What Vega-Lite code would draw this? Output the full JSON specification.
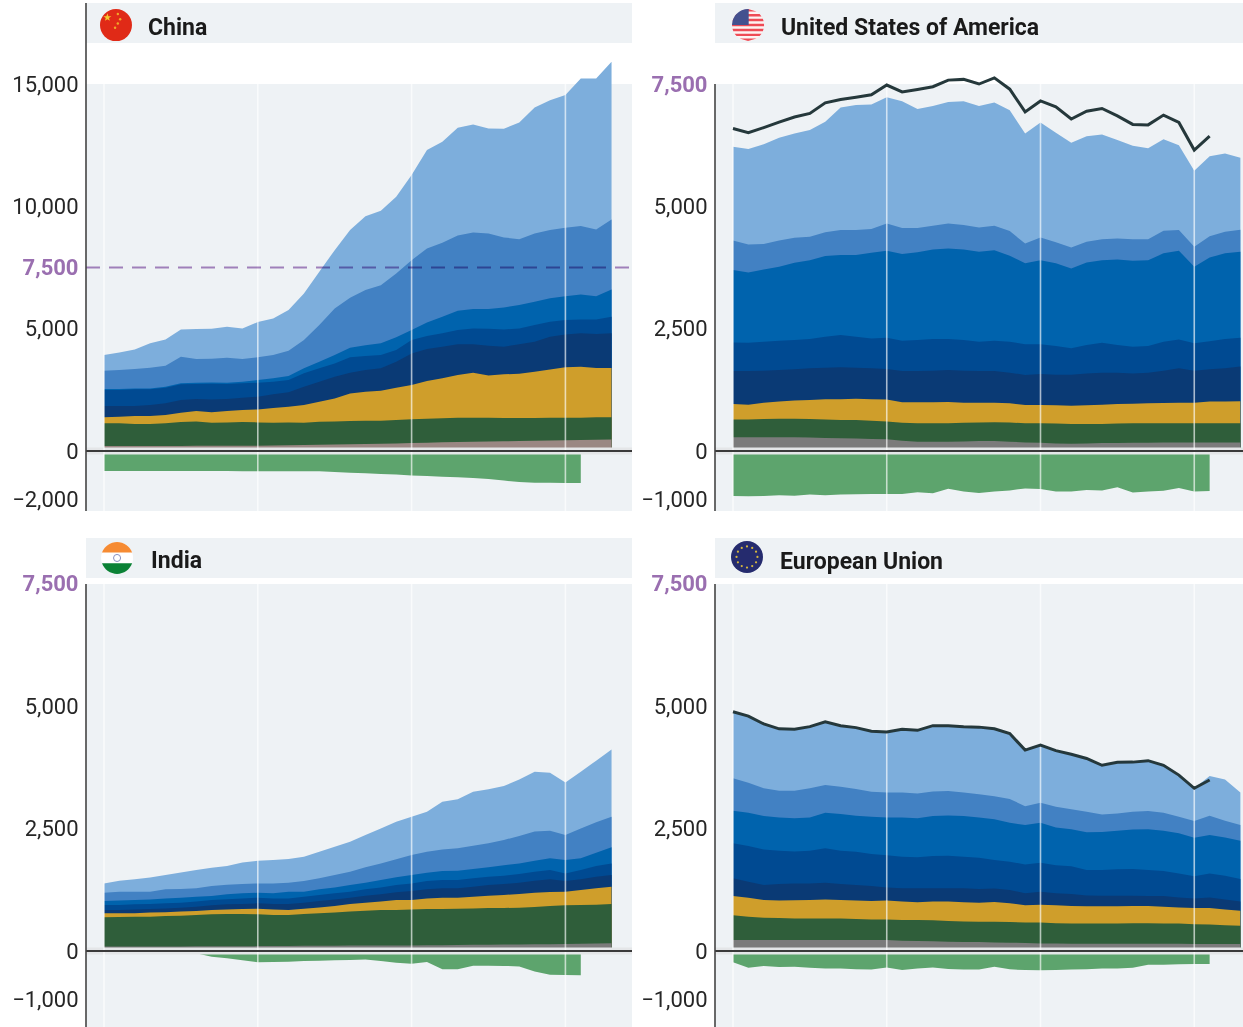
{
"$schema":"https://vega.github.io/schema/vega-lite/v6.json",
"padding":{"left":11,"top":2,"right":0,"bottom":0},
"columns":2,
"bounds":"flush",
"spacing":{"column":83,"row":27},
"resolve":{"scale":{"color":"independent"}},
"config":{"view":{"stroke":null},"axis":{"domain":false,"ticks":false,"grid":false,"labelPadding":8,"labelFont":"Roboto","labelFontSize":22,"labelColor":"#262626","labelBound":false,"labelOverlap":false,"labelFlush":false},"text":{"font":"Roboto"}},
"datasets":{
"china":[
{"year":1990,"light":3920,"mid":3280,"blue":2535,"dark":2490,"navy":1840,"gold":1375,"green":1130,"gray":200,"neg":-815},
{"year":1991,"light":4030,"mid":3310,"blue":2535,"dark":2490,"navy":1840,"gold":1400,"green":1130,"gray":200,"neg":-815},
{"year":1992,"light":4150,"mid":3350,"blue":2560,"dark":2520,"navy":1840,"gold":1430,"green":1105,"gray":200,"neg":-815},
{"year":1993,"light":4400,"mid":3405,"blue":2560,"dark":2520,"navy":1880,"gold":1430,"green":1105,"gray":200,"neg":-815},
{"year":1994,"light":4560,"mid":3490,"blue":2630,"dark":2590,"navy":1950,"gold":1470,"green":1130,"gray":205,"neg":-815},
{"year":1995,"light":4970,"mid":3855,"blue":2765,"dark":2725,"navy":2085,"gold":1565,"green":1185,"gray":205,"neg":-815},
{"year":1996,"light":4985,"mid":3760,"blue":2790,"dark":2740,"navy":2125,"gold":1635,"green":1210,"gray":210,"neg":-815},
{"year":1997,"light":5000,"mid":3770,"blue":2805,"dark":2750,"navy":2110,"gold":1580,"green":1160,"gray":210,"neg":-820},
{"year":1998,"light":5080,"mid":3815,"blue":2790,"dark":2740,"navy":2125,"gold":1635,"green":1170,"gray":215,"neg":-820},
{"year":1999,"light":5010,"mid":3760,"blue":2835,"dark":2765,"navy":2180,"gold":1675,"green":1185,"gray":215,"neg":-825},
{"year":2000,"light":5270,"mid":3830,"blue":2900,"dark":2790,"navy":2220,"gold":1700,"green":1170,"gray":220,"neg":-825},
{"year":2001,"light":5420,"mid":3920,"blue":2970,"dark":2835,"navy":2315,"gold":1755,"green":1160,"gray":225,"neg":-830},
{"year":2002,"light":5760,"mid":4100,"blue":3065,"dark":2900,"navy":2400,"gold":1810,"green":1170,"gray":235,"neg":-830},
{"year":2003,"light":6440,"mid":4535,"blue":3380,"dark":3175,"navy":2630,"gold":1880,"green":1160,"gray":245,"neg":-830},
{"year":2004,"light":7330,"mid":5150,"blue":3650,"dark":3380,"navy":2835,"gold":2015,"green":1200,"gray":255,"neg":-830},
{"year":2005,"light":8210,"mid":5830,"blue":3920,"dark":3580,"navy":3040,"gold":2150,"green":1210,"gray":265,"neg":-860},
{"year":2006,"light":9030,"mid":6265,"blue":4220,"dark":3830,"navy":3200,"gold":2355,"green":1225,"gray":280,"neg":-885},
{"year":2007,"light":9600,"mid":6580,"blue":4320,"dark":3880,"navy":3310,"gold":2425,"green":1240,"gray":290,"neg":-910},
{"year":2008,"light":9820,"mid":6780,"blue":4400,"dark":3920,"navy":3380,"gold":2465,"green":1240,"gray":300,"neg":-940},
{"year":2009,"light":10390,"mid":7260,"blue":4645,"dark":4125,"navy":3650,"gold":2590,"green":1265,"gray":310,"neg":-965},
{"year":2010,"light":11280,"mid":7800,"blue":4945,"dark":4535,"navy":3990,"gold":2695,"green":1295,"gray":325,"neg":-1000},
{"year":2011,"light":12300,"mid":8280,"blue":5255,"dark":4700,"navy":4170,"gold":2860,"green":1320,"gray":340,"neg":-1020},
{"year":2012,"light":12640,"mid":8510,"blue":5490,"dark":4810,"navy":4265,"gold":2970,"green":1335,"gray":355,"neg":-1050},
{"year":2013,"light":13210,"mid":8810,"blue":5735,"dark":4945,"navy":4360,"gold":3105,"green":1360,"gray":370,"neg":-1075},
{"year":2014,"light":13350,"mid":8935,"blue":5800,"dark":5010,"navy":4360,"gold":3200,"green":1360,"gray":380,"neg":-1105},
{"year":2015,"light":13180,"mid":8890,"blue":5800,"dark":5000,"navy":4305,"gold":3090,"green":1360,"gray":390,"neg":-1145},
{"year":2016,"light":13170,"mid":8730,"blue":5870,"dark":4970,"navy":4265,"gold":3135,"green":1350,"gray":400,"neg":-1210},
{"year":2017,"light":13430,"mid":8660,"blue":5965,"dark":5010,"navy":4360,"gold":3160,"green":1350,"gray":410,"neg":-1265},
{"year":2018,"light":14040,"mid":8890,"blue":6100,"dark":5150,"navy":4470,"gold":3240,"green":1350,"gray":420,"neg":-1295},
{"year":2019,"light":14340,"mid":9030,"blue":6240,"dark":5285,"navy":4670,"gold":3335,"green":1360,"gray":430,"neg":-1295},
{"year":2020,"light":14550,"mid":9125,"blue":6330,"dark":5350,"navy":4765,"gold":3420,"green":1360,"gray":440,"neg":-1305},
{"year":2021,"light":15230,"mid":9195,"blue":6400,"dark":5380,"navy":4810,"gold":3445,"green":1360,"gray":450,"neg":-1310},
{"year":2022,"light":15230,"mid":9055,"blue":6330,"dark":5380,"navy":4780,"gold":3390,"green":1375,"gray":460},
{"year":2023,"light":15910,"mid":9465,"blue":6605,"dark":5490,"navy":4810,"gold":3390,"green":1375,"gray":470}
],
"usa":[
{"year":1990,"light":6220,"mid":4300,"blue":3700,"dark":2220,"navy":1635,"gold":960,"green":645,"gray":280,"neg":-920,"net":6590},
{"year":1991,"light":6170,"mid":4220,"blue":3650,"dark":2215,"navy":1635,"gold":945,"green":645,"gray":280,"neg":-925,"net":6505},
{"year":1992,"light":6270,"mid":4230,"blue":3710,"dark":2235,"navy":1640,"gold":985,"green":655,"gray":280,"neg":-920,"net":6610},
{"year":1993,"light":6400,"mid":4300,"blue":3765,"dark":2255,"navy":1655,"gold":1010,"green":660,"gray":280,"neg":-905,"net":6720},
{"year":1994,"light":6490,"mid":4360,"blue":3850,"dark":2270,"navy":1670,"gold":1030,"green":660,"gray":280,"neg":-915,"net":6825},
{"year":1995,"light":6560,"mid":4380,"blue":3900,"dark":2290,"navy":1690,"gold":1040,"green":655,"gray":275,"neg":-890,"net":6900},
{"year":1996,"light":6730,"mid":4470,"blue":3985,"dark":2335,"navy":1700,"gold":1060,"green":645,"gray":265,"neg":-905,"net":7115},
{"year":1997,"light":7020,"mid":4515,"blue":4005,"dark":2370,"navy":1710,"gold":1060,"green":635,"gray":260,"neg":-890,"net":7185},
{"year":1998,"light":7070,"mid":4515,"blue":4005,"dark":2335,"navy":1700,"gold":1070,"green":635,"gray":255,"neg":-885,"net":7230},
{"year":1999,"light":7080,"mid":4535,"blue":4050,"dark":2300,"navy":1690,"gold":1060,"green":620,"gray":245,"neg":-880,"net":7280},
{"year":2000,"light":7230,"mid":4650,"blue":4095,"dark":2315,"navy":1675,"gold":1055,"green":605,"gray":240,"neg":-880,"net":7480},
{"year":2001,"light":7150,"mid":4560,"blue":4025,"dark":2255,"navy":1635,"gold":995,"green":580,"gray":210,"neg":-880,"net":7340},
{"year":2002,"light":6990,"mid":4560,"blue":4060,"dark":2270,"navy":1635,"gold":995,"green":565,"gray":190,"neg":-845,"net":7390},
{"year":2003,"light":7050,"mid":4605,"blue":4120,"dark":2290,"navy":1640,"gold":995,"green":565,"gray":190,"neg":-865,"net":7445},
{"year":2004,"light":7135,"mid":4650,"blue":4140,"dark":2290,"navy":1655,"gold":1000,"green":565,"gray":190,"neg":-770,"net":7580},
{"year":2005,"light":7150,"mid":4620,"blue":4120,"dark":2270,"navy":1640,"gold":985,"green":580,"gray":195,"neg":-825,"net":7595},
{"year":2006,"light":7050,"mid":4570,"blue":4070,"dark":2235,"navy":1635,"gold":985,"green":585,"gray":205,"neg":-860,"net":7500},
{"year":2007,"light":7125,"mid":4605,"blue":4105,"dark":2255,"navy":1635,"gold":985,"green":590,"gray":205,"neg":-825,"net":7625},
{"year":2008,"light":6965,"mid":4495,"blue":3990,"dark":2235,"navy":1600,"gold":975,"green":585,"gray":190,"neg":-805,"net":7395},
{"year":2009,"light":6490,"mid":4240,"blue":3835,"dark":2180,"navy":1555,"gold":940,"green":565,"gray":175,"neg":-765,"net":6930},
{"year":2010,"light":6715,"mid":4365,"blue":3900,"dark":2180,"navy":1575,"gold":940,"green":565,"gray":170,"neg":-775,"net":7155},
{"year":2011,"light":6505,"mid":4265,"blue":3835,"dark":2145,"navy":1560,"gold":935,"green":560,"gray":155,"neg":-830,"net":7035},
{"year":2012,"light":6300,"mid":4160,"blue":3730,"dark":2100,"navy":1560,"gold":925,"green":550,"gray":150,"neg":-825,"net":6785},
{"year":2013,"light":6435,"mid":4275,"blue":3855,"dark":2165,"navy":1585,"gold":935,"green":550,"gray":155,"neg":-795,"net":6945},
{"year":2014,"light":6470,"mid":4330,"blue":3900,"dark":2215,"navy":1600,"gold":945,"green":550,"gray":165,"neg":-805,"net":7000},
{"year":2015,"light":6355,"mid":4345,"blue":3915,"dark":2165,"navy":1600,"gold":960,"green":560,"gray":165,"neg":-740,"net":6850},
{"year":2016,"light":6240,"mid":4330,"blue":3890,"dark":2130,"navy":1585,"gold":965,"green":565,"gray":170,"neg":-850,"net":6675},
{"year":2017,"light":6185,"mid":4330,"blue":3900,"dark":2145,"navy":1600,"gold":975,"green":565,"gray":170,"neg":-825,"net":6665},
{"year":2018,"light":6370,"mid":4500,"blue":4040,"dark":2235,"navy":1640,"gold":980,"green":565,"gray":175,"neg":-810,"net":6865},
{"year":2019,"light":6250,"mid":4515,"blue":4095,"dark":2280,"navy":1690,"gold":985,"green":565,"gray":175,"neg":-755,"net":6715},
{"year":2020,"light":5730,"mid":4175,"blue":3765,"dark":2200,"navy":1640,"gold":985,"green":565,"gray":175,"neg":-830,"net":6150},
{"year":2021,"light":6025,"mid":4390,"blue":3955,"dark":2245,"navy":1670,"gold":1010,"green":565,"gray":175,"neg":-815,"net":6435},
{"year":2022,"light":6080,"mid":4480,"blue":4040,"dark":2290,"navy":1690,"gold":1010,"green":565,"gray":175},
{"year":2023,"light":5995,"mid":4520,"blue":4070,"dark":2315,"navy":1725,"gold":1015,"green":565,"gray":175}
],
"india":[
{"year":1990,"light":1380,"mid":1190,"blue":1020,"dark":940,"navy":840,"gold":770,"green":690,"gray":90,"neg":0},
{"year":1991,"light":1435,"mid":1210,"blue":1030,"dark":940,"navy":840,"gold":770,"green":695,"gray":90,"neg":0},
{"year":1992,"light":1465,"mid":1210,"blue":1040,"dark":955,"navy":850,"gold":770,"green":700,"gray":90,"neg":0},
{"year":1993,"light":1500,"mid":1210,"blue":1055,"dark":960,"navy":860,"gold":785,"green":700,"gray":90,"neg":0},
{"year":1994,"light":1555,"mid":1260,"blue":1075,"dark":975,"navy":870,"gold":790,"green":715,"gray":90,"neg":0},
{"year":1995,"light":1605,"mid":1265,"blue":1090,"dark":985,"navy":885,"gold":805,"green":720,"gray":90,"neg":0},
{"year":1996,"light":1655,"mid":1280,"blue":1110,"dark":1010,"navy":905,"gold":815,"green":735,"gray":95,"neg":-45},
{"year":1997,"light":1700,"mid":1330,"blue":1125,"dark":1040,"navy":935,"gold":840,"green":750,"gray":95,"neg":-115},
{"year":1998,"light":1735,"mid":1355,"blue":1160,"dark":1060,"navy":955,"gold":850,"green":755,"gray":95,"neg":-150},
{"year":1999,"light":1810,"mid":1370,"blue":1180,"dark":1075,"navy":960,"gold":860,"green":755,"gray":95,"neg":-190},
{"year":2000,"light":1845,"mid":1380,"blue":1190,"dark":1090,"navy":975,"gold":865,"green":750,"gray":100,"neg":-230},
{"year":2001,"light":1860,"mid":1380,"blue":1180,"dark":1075,"navy":960,"gold":850,"green":735,"gray":100,"neg":-225},
{"year":2002,"light":1880,"mid":1395,"blue":1210,"dark":1075,"navy":960,"gold":840,"green":735,"gray":100,"neg":-220},
{"year":2003,"light":1925,"mid":1430,"blue":1210,"dark":1110,"navy":985,"gold":865,"green":755,"gray":105,"neg":-205},
{"year":2004,"light":2030,"mid":1485,"blue":1260,"dark":1145,"navy":1020,"gold":890,"green":770,"gray":105,"neg":-200},
{"year":2005,"light":2130,"mid":1555,"blue":1300,"dark":1180,"navy":1050,"gold":920,"green":785,"gray":105,"neg":-190},
{"year":2006,"light":2235,"mid":1620,"blue":1350,"dark":1210,"navy":1090,"gold":960,"green":805,"gray":110,"neg":-185},
{"year":2007,"light":2370,"mid":1710,"blue":1395,"dark":1260,"navy":1130,"gold":985,"green":825,"gray":110,"neg":-175},
{"year":2008,"light":2505,"mid":1790,"blue":1450,"dark":1300,"navy":1160,"gold":1010,"green":840,"gray":115,"neg":-205},
{"year":2009,"light":2640,"mid":1875,"blue":1505,"dark":1350,"navy":1200,"gold":1040,"green":840,"gray":115,"neg":-240},
{"year":2010,"light":2745,"mid":1960,"blue":1555,"dark":1380,"navy":1225,"gold":1040,"green":850,"gray":115,"neg":-260},
{"year":2011,"light":2845,"mid":2030,"blue":1600,"dark":1430,"navy":1260,"gold":1075,"green":860,"gray":120,"neg":-225},
{"year":2012,"light":3050,"mid":2075,"blue":1635,"dark":1450,"navy":1280,"gold":1090,"green":860,"gray":120,"neg":-375},
{"year":2013,"light":3100,"mid":2100,"blue":1640,"dark":1450,"navy":1280,"gold":1090,"green":865,"gray":125,"neg":-375},
{"year":2014,"light":3255,"mid":2150,"blue":1675,"dark":1485,"navy":1315,"gold":1110,"green":870,"gray":130,"neg":-300},
{"year":2015,"light":3305,"mid":2200,"blue":1710,"dark":1520,"navy":1350,"gold":1130,"green":880,"gray":130,"neg":-300},
{"year":2016,"light":3370,"mid":2270,"blue":1755,"dark":1540,"navy":1370,"gold":1145,"green":880,"gray":135,"neg":-305},
{"year":2017,"light":3505,"mid":2350,"blue":1790,"dark":1575,"navy":1395,"gold":1165,"green":885,"gray":135,"neg":-315},
{"year":2018,"light":3665,"mid":2440,"blue":1845,"dark":1620,"navy":1435,"gold":1190,"green":900,"gray":140,"neg":-420},
{"year":2019,"light":3645,"mid":2460,"blue":1895,"dark":1655,"navy":1465,"gold":1205,"green":920,"gray":140,"neg":-485},
{"year":2020,"light":3445,"mid":2370,"blue":1860,"dark":1585,"navy":1430,"gold":1210,"green":935,"gray":145,"neg":-490},
{"year":2021,"light":3665,"mid":2505,"blue":1895,"dark":1655,"navy":1465,"gold":1245,"green":940,"gray":150,"neg":-495},
{"year":2022,"light":3890,"mid":2630,"blue":2010,"dark":1735,"navy":1520,"gold":1280,"green":945,"gray":155},
{"year":2023,"light":4120,"mid":2745,"blue":2120,"dark":1790,"navy":1555,"gold":1315,"green":960,"gray":160}
],
"eu":[
{"year":1990,"light":4890,"mid":3530,"blue":2865,"dark":2200,"navy":1485,"gold":1125,"green":730,"gray":225,"neg":-230,"net":4890},
{"year":1991,"light":4800,"mid":3440,"blue":2825,"dark":2145,"navy":1415,"gold":1090,"green":700,"gray":225,"neg":-340,"net":4800},
{"year":1992,"light":4640,"mid":3325,"blue":2760,"dark":2075,"navy":1350,"gold":1040,"green":680,"gray":225,"neg":-305,"net":4640},
{"year":1993,"light":4540,"mid":3275,"blue":2730,"dark":2050,"navy":1370,"gold":1030,"green":675,"gray":225,"neg":-325,"net":4540},
{"year":1994,"light":4530,"mid":3275,"blue":2715,"dark":2035,"navy":1380,"gold":1035,"green":665,"gray":225,"neg":-320,"net":4530},
{"year":1995,"light":4585,"mid":3325,"blue":2730,"dark":2050,"navy":1380,"gold":1040,"green":665,"gray":225,"neg":-340,"net":4585},
{"year":1996,"light":4685,"mid":3390,"blue":2825,"dark":2100,"navy":1395,"gold":1055,"green":665,"gray":225,"neg":-360,"net":4685},
{"year":1997,"light":4605,"mid":3355,"blue":2800,"dark":2050,"navy":1370,"gold":1040,"green":665,"gray":225,"neg":-360,"net":4605},
{"year":1998,"light":4565,"mid":3310,"blue":2765,"dark":2030,"navy":1350,"gold":1030,"green":655,"gray":225,"neg":-375,"net":4565},
{"year":1999,"light":4490,"mid":3255,"blue":2745,"dark":1980,"navy":1330,"gold":1020,"green":645,"gray":225,"neg":-380,"net":4490},
{"year":2000,"light":4475,"mid":3240,"blue":2730,"dark":1955,"navy":1300,"gold":1030,"green":645,"gray":225,"neg":-335,"net":4475},
{"year":2001,"light":4530,"mid":3240,"blue":2730,"dark":1925,"navy":1285,"gold":1010,"green":635,"gray":210,"neg":-390,"net":4530},
{"year":2002,"light":4510,"mid":3220,"blue":2715,"dark":1915,"navy":1280,"gold":995,"green":635,"gray":205,"neg":-355,"net":4510},
{"year":2003,"light":4605,"mid":3260,"blue":2760,"dark":1940,"navy":1285,"gold":1010,"green":630,"gray":200,"neg":-335,"net":4605},
{"year":2004,"light":4605,"mid":3270,"blue":2770,"dark":1945,"navy":1285,"gold":1010,"green":615,"gray":190,"neg":-370,"net":4605},
{"year":2005,"light":4585,"mid":3240,"blue":2760,"dark":1925,"navy":1280,"gold":995,"green":605,"gray":185,"neg":-380,"net":4585},
{"year":2006,"light":4575,"mid":3205,"blue":2730,"dark":1905,"navy":1265,"gold":985,"green":600,"gray":185,"neg":-380,"net":4575},
{"year":2007,"light":4540,"mid":3165,"blue":2690,"dark":1860,"navy":1275,"gold":1000,"green":600,"gray":175,"neg":-320,"net":4540},
{"year":2008,"light":4445,"mid":3105,"blue":2620,"dark":1825,"navy":1245,"gold":975,"green":595,"gray":170,"neg":-375,"net":4445},
{"year":2009,"light":4105,"mid":2960,"blue":2575,"dark":1770,"navy":1180,"gold":935,"green":580,"gray":165,"neg":-390,"net":4105},
{"year":2010,"light":4210,"mid":3030,"blue":2620,"dark":1805,"navy":1210,"gold":945,"green":580,"gray":155,"neg":-395,"net":4210},
{"year":2011,"light":4095,"mid":2950,"blue":2525,"dark":1750,"navy":1180,"gold":935,"green":565,"gray":155,"neg":-390,"net":4095},
{"year":2012,"light":4020,"mid":2895,"blue":2490,"dark":1730,"navy":1165,"gold":920,"green":560,"gray":150,"neg":-380,"net":4020},
{"year":2013,"light":3935,"mid":2845,"blue":2425,"dark":1655,"navy":1135,"gold":915,"green":560,"gray":150,"neg":-375,"net":3935},
{"year":2014,"light":3795,"mid":2790,"blue":2430,"dark":1655,"navy":1130,"gold":915,"green":560,"gray":150,"neg":-360,"net":3795},
{"year":2015,"light":3855,"mid":2810,"blue":2460,"dark":1670,"navy":1130,"gold":915,"green":560,"gray":150,"neg":-355,"net":3855},
{"year":2016,"light":3860,"mid":2845,"blue":2485,"dark":1675,"navy":1130,"gold":920,"green":565,"gray":150,"neg":-340,"net":3860},
{"year":2017,"light":3890,"mid":2860,"blue":2490,"dark":1655,"navy":1125,"gold":920,"green":565,"gray":150,"neg":-280,"net":3890},
{"year":2018,"light":3795,"mid":2825,"blue":2460,"dark":1635,"navy":1125,"gold":905,"green":560,"gray":150,"neg":-280,"net":3795},
{"year":2019,"light":3595,"mid":2745,"blue":2405,"dark":1585,"navy":1095,"gold":890,"green":560,"gray":150,"neg":-270,"net":3595},
{"year":2020,"light":3325,"mid":2655,"blue":2315,"dark":1530,"navy":1075,"gold":880,"green":545,"gray":145,"neg":-265,"net":3325},
{"year":2021,"light":3575,"mid":2765,"blue":2370,"dark":1585,"navy":1095,"gold":880,"green":540,"gray":145,"neg":-265,"net":3495},
{"year":2022,"light":3505,"mid":2660,"blue":2320,"dark":1540,"navy":1055,"gold":850,"green":525,"gray":145},
{"year":2023,"light":3240,"mid":2575,"blue":2255,"dark":1470,"navy":1010,"gold":825,"green":515,"gray":145}
],
"grid":[{"year":1990},{"year":2000},{"year":2010},{"year":2020}]
},
"concat":[
{"width":546,"height":508,"layer":[
{"data":{"values":[{"lo":-2452,"hi":15000},{"lo":16673,"hi":18312}]},"mark":{"type":"rect","color":"#eef2f5"},"encoding":{"x":{"datum":1988.83,"type":"quantitative","scale":{"domain":[1988.83,2024.33],"nice":false,"zero":false},"axis":null},"x2":{"datum":2024.33},"y":{"field":"lo","type":"quantitative","title":null,"scale":{"domain":[-2452,18312],"nice":false,"zero":false},"axis":{"title":null,"values":[15000,10000,7500,5000,0,-2000],"labelExpr":"format(datum.value,',')","labelColor":{"condition":{"test":"datum.value==7500","value":"#9a6fb0"},"value":"#262626"},"labelFontWeight":{"condition":{"test":"datum.value==7500","value":700},"value":400}}},"y2":{"field":"hi"}}},
{"data":{"name":"china"},"transform":[{"fold":["light","mid","blue","dark","navy","gold","green","gray"],"as":["layer","top"]}],"mark":{"type":"area"},"encoding":{"x":{"field":"year","type":"quantitative","axis":null},"y":{"field":"top","type":"quantitative","stack":null,"title":null},"color":{"field":"layer","type":"nominal","legend":null,"scale":{"domain":["light","mid","blue","dark","navy","gold","green","gray"],"range":["#7daedc","#4281c3","#0063ad","#004a92","#0a3a75","#cf9e2b","#2f5e3a","#9a8783"]}}}},
{"data":{"name":"china"},"mark":{"type":"area","color":"#5da46d"},"encoding":{"x":{"field":"year","type":"quantitative","axis":null},"y":{"field":"neg","type":"quantitative","stack":null,"title":null}}},
{"data":{"values":[{"zero":0}]},"mark":{"type":"rule","color":"#e4e6e8","strokeWidth":7},"encoding":{"x":{"datum":1988.83,"type":"quantitative","axis":null},"x2":{"datum":2024.33},"y":{"field":"zero","type":"quantitative","title":null}}},
{"data":{"name":"grid"},"mark":{"type":"rule","color":"#ffffff","strokeWidth":1.6,"opacity":0.65},"encoding":{"x":{"field":"year","type":"quantitative","axis":null},"y":{"datum":-2452,"type":"quantitative","title":null},"y2":{"datum":15000}}},
{"data":{"values":[{"zero":0}]},"mark":{"type":"rule","color":"#3a3a3a","strokeWidth":2.2},"encoding":{"x":{"datum":1988.83,"type":"quantitative","axis":null},"x2":{"datum":2024.33},"y":{"field":"zero","type":"quantitative","title":null}}},
{"data":{"values":[{"limit":7500}]},"mark":{"type":"rule","color":"#ab87c2","strokeWidth":2,"strokeDash":[14,9],"blend":"multiply"},"encoding":{"x":{"datum":1988.83,"type":"quantitative","axis":null},"x2":{"datum":2024.33},"y":{"field":"limit","type":"quantitative","title":null}}},
{"data":{"values":[{"a":18312,"b":-2452}]},"mark":{"type":"rule","color":"#444444","strokeWidth":1.6},"encoding":{"x":{"datum":1988.83,"type":"quantitative","axis":null},"y":{"field":"a","type":"quantitative","title":null},"y2":{"field":"b"}}},
{"data":{"values":[{"year":1990.78,"v":17409}]},"mark":{"type":"point","shape":"circle","filled":true,"opacity":1,"size":1024,"color":"#e02a17"},"encoding":{"x":{"field":"year","type":"quantitative","axis":null},"y":{"field":"v","type":"quantitative","title":null}}},
{"data":{"values":[{"year":1990.22,"v":17720}]},"mark":{"type":"point","shape":"M0,-.5L.118,-.162L.476,-.155L.19,.062L.294,.405L0,.2L-.294,.405L-.19,.062L-.476,-.155L-.118,-.162Z","filled":true,"opacity":1,"size":280,"color":"#f5c92e"},"encoding":{"x":{"field":"year","type":"quantitative","axis":null},"y":{"field":"v","type":"quantitative","title":null}}},
{"data":{"values":[{"year":1990.9,"v":17860},{"year":1991.05,"v":17650},{"year":1990.9,"v":17470},{"year":1990.72,"v":17300}]},"mark":{"type":"point","shape":"circle","filled":true,"opacity":0.8,"size":6,"color":"#f5c92e"},"encoding":{"x":{"field":"year","type":"quantitative","axis":null},"y":{"field":"v","type":"quantitative","title":null}}},
{"data":{"values":[{"name":"China","year":1992.86,"v":17290}]},"mark":{"type":"text","align":"left","baseline":"middle","fontSize":23,"fontWeight":"bold","color":"#1a1a1a"},"encoding":{"x":{"field":"year","type":"quantitative","axis":null},"y":{"field":"v","type":"quantitative","title":null},"text":{"field":"name"}}}
]},
{"width":528,"height":508,"layer":[
{"data":{"values":[{"lo":-1226,"hi":7500},{"lo":8338,"hi":9156}]},"mark":{"type":"rect","color":"#eef2f5"},"encoding":{"x":{"datum":1988.83,"type":"quantitative","scale":{"domain":[1988.83,2023.17],"nice":false,"zero":false},"axis":null},"x2":{"datum":2023.17},"y":{"field":"lo","type":"quantitative","title":null,"scale":{"domain":[-1226,9156],"nice":false,"zero":false},"axis":{"title":null,"values":[7500,5000,2500,0,-1000],"labelExpr":"format(datum.value,',')","labelColor":{"condition":{"test":"datum.value==7500","value":"#9a6fb0"},"value":"#262626"},"labelFontWeight":{"condition":{"test":"datum.value==7500","value":700},"value":400}}},"y2":{"field":"hi"}}},
{"data":{"name":"usa"},"transform":[{"fold":["light","mid","blue","dark","navy","gold","green","gray"],"as":["layer","top"]}],"mark":{"type":"area"},"encoding":{"x":{"field":"year","type":"quantitative","axis":null},"y":{"field":"top","type":"quantitative","stack":null,"title":null},"color":{"field":"layer","type":"nominal","legend":null,"scale":{"domain":["light","mid","blue","dark","navy","gold","green","gray"],"range":["#7daedc","#4281c3","#0063ad","#004a92","#0a3a75","#cf9e2b","#2f5e3a","#7b7b7b"]}}}},
{"data":{"name":"usa"},"mark":{"type":"area","color":"#5da46d"},"encoding":{"x":{"field":"year","type":"quantitative","axis":null},"y":{"field":"neg","type":"quantitative","stack":null,"title":null}}},
{"data":{"values":[{"zero":0}]},"mark":{"type":"rule","color":"#e4e6e8","strokeWidth":7},"encoding":{"x":{"datum":1988.83,"type":"quantitative","axis":null},"x2":{"datum":2023.17},"y":{"field":"zero","type":"quantitative","title":null}}},
{"data":{"name":"grid"},"mark":{"type":"rule","color":"#ffffff","strokeWidth":1.6,"opacity":0.65},"encoding":{"x":{"field":"year","type":"quantitative","axis":null},"y":{"datum":-1226,"type":"quantitative","title":null},"y2":{"datum":7500}}},
{"data":{"values":[{"zero":0}]},"mark":{"type":"rule","color":"#3a3a3a","strokeWidth":2.2},"encoding":{"x":{"datum":1988.83,"type":"quantitative","axis":null},"x2":{"datum":2023.17},"y":{"field":"zero","type":"quantitative","title":null}}},
{"data":{"name":"usa"},"transform":[{"filter":"isValid(datum.net)"}],"mark":{"type":"line","color":"#25383b","strokeWidth":3},"encoding":{"x":{"field":"year","type":"quantitative","axis":null},"y":{"field":"net","type":"quantitative","title":null}}},
{"data":{"values":[{"a":7500,"b":-1226}]},"mark":{"type":"rule","color":"#444444","strokeWidth":1.6},"encoding":{"x":{"datum":1988.83,"type":"quantitative","axis":null},"y":{"field":"a","type":"quantitative","title":null},"y2":{"field":"b"}}},
{"data":{"values":[{"year":1990.98,"v":8706}]},"mark":{"type":"point","shape":"circle","filled":true,"opacity":1,"size":1024,"color":"#fdf3f3"},"encoding":{"x":{"field":"year","type":"quantitative","axis":null},"y":{"field":"v","type":"quantitative","title":null}}},
{"data":{"values":[{"year":1990.98,"v":8706}]},"mark":{"type":"point","shape":"M0,-.5L.267,-.423L-.267,-.423ZM-.361,-.346L.361,-.346L.421,-.269L-.421,-.269ZM-.462,-.192L.462,-.192L.487,-.115L-.487,-.115ZM-.499,-.038L.499,-.038L.499,.038L-.499,.038ZM-.487,.115L.487,.115L.462,.192L-.462,.192ZM-.421,.269L.421,.269L.361,.346L-.361,.346ZM-.267,.423L.267,.423L0,.5Z","filled":true,"opacity":1,"size":4096,"color":"#ee4b56"},"encoding":{"x":{"field":"year","type":"quantitative","axis":null},"y":{"field":"v","type":"quantitative","title":null}}},
{"data":{"values":[{"year":1990.98,"v":8706}]},"mark":{"type":"point","shape":"M-.5,0A.5,.5,0,0,1,0,-.5L.02,-.5L.02,0Z","filled":true,"opacity":1,"size":4096,"color":"#44518f"},"encoding":{"x":{"field":"year","type":"quantitative","axis":null},"y":{"field":"v","type":"quantitative","title":null}}},
{"data":{"values":[{"name":"United States of America","year":1993.12,"v":8645}]},"mark":{"type":"text","align":"left","baseline":"middle","fontSize":23,"fontWeight":"bold","color":"#1a1a1a"},"encoding":{"x":{"field":"year","type":"quantitative","axis":null},"y":{"field":"v","type":"quantitative","title":null},"text":{"field":"name"}}}
]},
{"width":546,"height":489,"layer":[
{"data":{"values":[{"lo":-1553,"hi":7500},{"lo":7623,"hi":8440}]},"mark":{"type":"rect","color":"#eef2f5"},"encoding":{"x":{"datum":1988.83,"type":"quantitative","scale":{"domain":[1988.83,2024.33],"nice":false,"zero":false},"axis":null},"x2":{"datum":2024.33},"y":{"field":"lo","type":"quantitative","title":null,"scale":{"domain":[-1553,8440],"nice":false,"zero":false},"axis":{"title":null,"values":[7500,5000,2500,0,-1000],"labelExpr":"format(datum.value,',')","labelColor":{"condition":{"test":"datum.value==7500","value":"#9a6fb0"},"value":"#262626"},"labelFontWeight":{"condition":{"test":"datum.value==7500","value":700},"value":400}}},"y2":{"field":"hi"}}},
{"data":{"name":"india"},"transform":[{"fold":["light","mid","blue","dark","navy","gold","green","gray"],"as":["layer","top"]}],"mark":{"type":"area"},"encoding":{"x":{"field":"year","type":"quantitative","axis":null},"y":{"field":"top","type":"quantitative","stack":null,"title":null},"color":{"field":"layer","type":"nominal","legend":null,"scale":{"domain":["light","mid","blue","dark","navy","gold","green","gray"],"range":["#7daedc","#4281c3","#0063ad","#004a92","#0a3a75","#cf9e2b","#2f5e3a","#7b7b7b"]}}}},
{"data":{"name":"india"},"mark":{"type":"area","color":"#5da46d"},"encoding":{"x":{"field":"year","type":"quantitative","axis":null},"y":{"field":"neg","type":"quantitative","stack":null,"title":null}}},
{"data":{"values":[{"zero":0}]},"mark":{"type":"rule","color":"#e4e6e8","strokeWidth":7},"encoding":{"x":{"datum":1988.83,"type":"quantitative","axis":null},"x2":{"datum":2024.33},"y":{"field":"zero","type":"quantitative","title":null}}},
{"data":{"name":"grid"},"mark":{"type":"rule","color":"#ffffff","strokeWidth":1.6,"opacity":0.65},"encoding":{"x":{"field":"year","type":"quantitative","axis":null},"y":{"datum":-1553,"type":"quantitative","title":null},"y2":{"datum":7500}}},
{"data":{"values":[{"zero":0}]},"mark":{"type":"rule","color":"#3a3a3a","strokeWidth":2.2},"encoding":{"x":{"datum":1988.83,"type":"quantitative","axis":null},"x2":{"datum":2024.33},"y":{"field":"zero","type":"quantitative","title":null}}},
{"data":{"values":[{"a":7500,"b":-1553}]},"mark":{"type":"rule","color":"#444444","strokeWidth":1.6},"encoding":{"x":{"datum":1988.83,"type":"quantitative","axis":null},"y":{"field":"a","type":"quantitative","title":null},"y2":{"field":"b"}}},
{"data":{"values":[{"year":1990.85,"v":8032}]},"mark":{"type":"point","shape":"circle","filled":true,"opacity":1,"size":1024,"color":"#ffffff"},"encoding":{"x":{"field":"year","type":"quantitative","axis":null},"y":{"field":"v","type":"quantitative","title":null}}},
{"data":{"values":[{"year":1990.85,"v":8032}]},"mark":{"type":"point","shape":"M-.471,-.167A.5,.5,0,0,1,.471,-.167Z","filled":true,"opacity":1,"size":4096,"color":"#f68b33"},"encoding":{"x":{"field":"year","type":"quantitative","axis":null},"y":{"field":"v","type":"quantitative","title":null}}},
{"data":{"values":[{"year":1990.85,"v":8032}]},"mark":{"type":"point","shape":"M-.471,.167A.5,.5,0,0,0,.471,.167Z","filled":true,"opacity":1,"size":4096,"color":"#0b8236"},"encoding":{"x":{"field":"year","type":"quantitative","axis":null},"y":{"field":"v","type":"quantitative","title":null}}},
{"data":{"values":[{"year":1990.85,"v":8032}]},"mark":{"type":"point","shape":"circle","filled":false,"opacity":0.8,"size":50,"strokeWidth":1,"color":"#6a72ad"},"encoding":{"x":{"field":"year","type":"quantitative","axis":null},"y":{"field":"v","type":"quantitative","title":null}}},
{"data":{"values":[{"name":"India","year":1993.06,"v":7971}]},"mark":{"type":"text","align":"left","baseline":"middle","fontSize":23,"fontWeight":"bold","color":"#1a1a1a"},"encoding":{"x":{"field":"year","type":"quantitative","axis":null},"y":{"field":"v","type":"quantitative","title":null},"text":{"field":"name"}}}
]},
{"width":528,"height":489,"layer":[
{"data":{"values":[{"lo":-1553,"hi":7500},{"lo":7623,"hi":8440}]},"mark":{"type":"rect","color":"#eef2f5"},"encoding":{"x":{"datum":1988.83,"type":"quantitative","scale":{"domain":[1988.83,2023.17],"nice":false,"zero":false},"axis":null},"x2":{"datum":2023.17},"y":{"field":"lo","type":"quantitative","title":null,"scale":{"domain":[-1553,8440],"nice":false,"zero":false},"axis":{"title":null,"values":[7500,5000,2500,0,-1000],"labelExpr":"format(datum.value,',')","labelColor":{"condition":{"test":"datum.value==7500","value":"#9a6fb0"},"value":"#262626"},"labelFontWeight":{"condition":{"test":"datum.value==7500","value":700},"value":400}}},"y2":{"field":"hi"}}},
{"data":{"name":"eu"},"transform":[{"fold":["light","mid","blue","dark","navy","gold","green","gray"],"as":["layer","top"]}],"mark":{"type":"area"},"encoding":{"x":{"field":"year","type":"quantitative","axis":null},"y":{"field":"top","type":"quantitative","stack":null,"title":null},"color":{"field":"layer","type":"nominal","legend":null,"scale":{"domain":["light","mid","blue","dark","navy","gold","green","gray"],"range":["#7daedc","#4281c3","#0063ad","#004a92","#0a3a75","#cf9e2b","#2f5e3a","#7b7b7b"]}}}},
{"data":{"name":"eu"},"mark":{"type":"area","color":"#5da46d"},"encoding":{"x":{"field":"year","type":"quantitative","axis":null},"y":{"field":"neg","type":"quantitative","stack":null,"title":null}}},
{"data":{"values":[{"zero":0}]},"mark":{"type":"rule","color":"#e4e6e8","strokeWidth":7},"encoding":{"x":{"datum":1988.83,"type":"quantitative","axis":null},"x2":{"datum":2023.17},"y":{"field":"zero","type":"quantitative","title":null}}},
{"data":{"name":"grid"},"mark":{"type":"rule","color":"#ffffff","strokeWidth":1.6,"opacity":0.65},"encoding":{"x":{"field":"year","type":"quantitative","axis":null},"y":{"datum":-1553,"type":"quantitative","title":null},"y2":{"datum":7500}}},
{"data":{"values":[{"zero":0}]},"mark":{"type":"rule","color":"#3a3a3a","strokeWidth":2.2},"encoding":{"x":{"datum":1988.83,"type":"quantitative","axis":null},"x2":{"datum":2023.17},"y":{"field":"zero","type":"quantitative","title":null}}},
{"data":{"name":"eu"},"transform":[{"filter":"isValid(datum.net)"}],"mark":{"type":"line","color":"#25383b","strokeWidth":3},"encoding":{"x":{"field":"year","type":"quantitative","axis":null},"y":{"field":"net","type":"quantitative","title":null}}},
{"data":{"values":[{"a":7500,"b":-1553}]},"mark":{"type":"rule","color":"#444444","strokeWidth":1.6},"encoding":{"x":{"datum":1988.83,"type":"quantitative","axis":null},"y":{"field":"a","type":"quantitative","title":null},"y2":{"field":"b"}}},
{"data":{"values":[{"year":1990.91,"v":8052}]},"mark":{"type":"point","shape":"circle","filled":true,"opacity":1,"size":1024,"color":"#252b6e"},"encoding":{"x":{"field":"year","type":"quantitative","axis":null},"y":{"field":"v","type":"quantitative","title":null}}},
{"data":{"values":[{"year":1990.91,"v":8267},{"year":1991.25,"v":8238},{"year":1991.5,"v":8160},{"year":1991.59,"v":8052},{"year":1991.5,"v":7944},{"year":1991.25,"v":7866},{"year":1990.91,"v":7837},{"year":1990.57,"v":7866},{"year":1990.32,"v":7944},{"year":1990.23,"v":8052},{"year":1990.32,"v":8160},{"year":1990.57,"v":8238}]},"mark":{"type":"point","shape":"circle","filled":true,"opacity":0.9,"size":5,"color":"#e8c53a"},"encoding":{"x":{"field":"year","type":"quantitative","axis":null},"y":{"field":"v","type":"quantitative","title":null}}},
{"data":{"values":[{"name":"European Union","year":1993.06,"v":7951}]},"mark":{"type":"text","align":"left","baseline":"middle","fontSize":23,"fontWeight":"bold","color":"#1a1a1a"},"encoding":{"x":{"field":"year","type":"quantitative","axis":null},"y":{"field":"v","type":"quantitative","title":null},"text":{"field":"name"}}}
]}
]
}
